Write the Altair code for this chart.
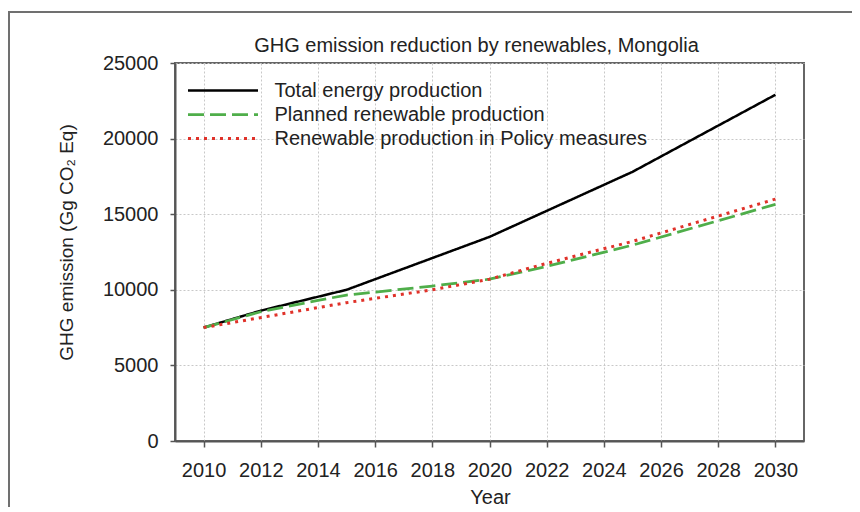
import altair as alt
import pandas as pd

series_names = [
    "Total energy production",
    "Planned renewable production",
    "Renewable production in Policy measures",
]
total_years = [2010, 2012, 2015, 2020, 2025, 2030]
total_values = [7500, 8620, 10000, 13500, 17800, 22900]
planned_years = [2010, 2012, 2014, 2015, 2018, 2020, 2022, 2025, 2030]
planned_values = [7500, 8550, 9300, 9650, 10250, 10700, 11550, 12950, 15650]
policy_years = [2010, 2015, 2018, 2020, 2022, 2025, 2030]
policy_values = [7500, 9150, 10000, 10700, 11750, 13200, 16000]
x_ticks = list(range(2010, 2031, 2))
y_ticks = [0, 5000, 10000, 15000, 20000, 25000]

colors = ["#000000", "#4fae4a", "#e0322a"]
dashes = [[1, 0], [16, 6], [3, 5]]
widths = [2.5, 3, 3.5]

rows = []
for name, ys, vs in zip(series_names, [total_years, planned_years, policy_years],
                        [total_values, planned_values, policy_values]):
    for y, v in zip(ys, vs):
        rows.append({"series": name, "year": y, "value": v})
df = pd.DataFrame(rows)

FONT = "Liberation Sans"
legend = alt.Legend(
    title=None, orient="none", legendX=36.5, legendY=16,
    symbolType="M-3.5,0L3.5,0", symbolSize=400, symbolStrokeWidth=3,
    labelFontSize=20, labelFont=FONT, labelColor="#222", labelOffset=40,
    labelLimit=600, rowPadding=2, padding=0,
)

lines = alt.Chart(df).mark_line(clip=True).encode(
    x=alt.X("year:Q", scale=alt.Scale(domain=[2009, 2031], nice=False, zero=False),
            axis=alt.Axis(values=x_ticks, format="d", title="Year", tickSize=6,
                          labelPadding=13, titleX=315, titleY=62,
                          titleBaseline="alphabetic", labelFlush=False)),
    y=alt.Y("value:Q", scale=alt.Scale(domain=[0, 25000], nice=False),
            axis=alt.Axis(values=y_ticks, format="d", title="GHG emission (Gg CO₂ Eq)",
                          tickSize=5, labelPadding=12, titleFontSize=19,
                          titleX=-103, titleY=179, titleAngle=-90,
                          titleBaseline="alphabetic", titleAlign="center")),
    color=alt.Color("series:N", scale=alt.Scale(domain=series_names, range=colors), legend=legend),
    strokeDash=alt.StrokeDash("series:N", scale=alt.Scale(domain=series_names, range=dashes), legend=legend),
    strokeWidth=alt.StrokeWidth("series:N", scale=alt.Scale(domain=series_names, range=widths), legend=None),
    order=alt.Order("year:Q"),
)

frame = alt.Chart(pd.DataFrame({"a": [0]})).mark_rect(
    fill="transparent", stroke="#707070", strokeWidth=2, clip=False
).encode(x=alt.value(-166), x2=alt.value(720), y=alt.value(-51), y2=alt.value(480))

chart = alt.layer(lines, frame).properties(
    width=629, height=378,
    title=alt.TitleParams("GHG emission reduction by renewables, Mongolia", fontSize=20,
                          font=FONT, color="#222", fontWeight="normal", frame="group",
                          offset=0, dy=45, dx=-13),
    autosize=alt.AutoSizeParams(type="none"),
    padding={"left": 167, "top": 55, "right": 48, "bottom": 66},
).configure_view(
    stroke="#666", strokeWidth=2
).configure_axis(
    labelFont=FONT, titleFont=FONT, labelFontSize=20, titleFontSize=20,
    labelColor="#222", titleColor="#222", titleFontWeight="normal",
    domainColor="#555", domainWidth=2, tickColor="#555", tickWidth=1.5,
    grid=True, gridColor="#c8c8c8", gridDash=[2, 2], gridWidth=1,
)

chart.save("out.html", embed_options={"renderer": "svg", "actions": False})
